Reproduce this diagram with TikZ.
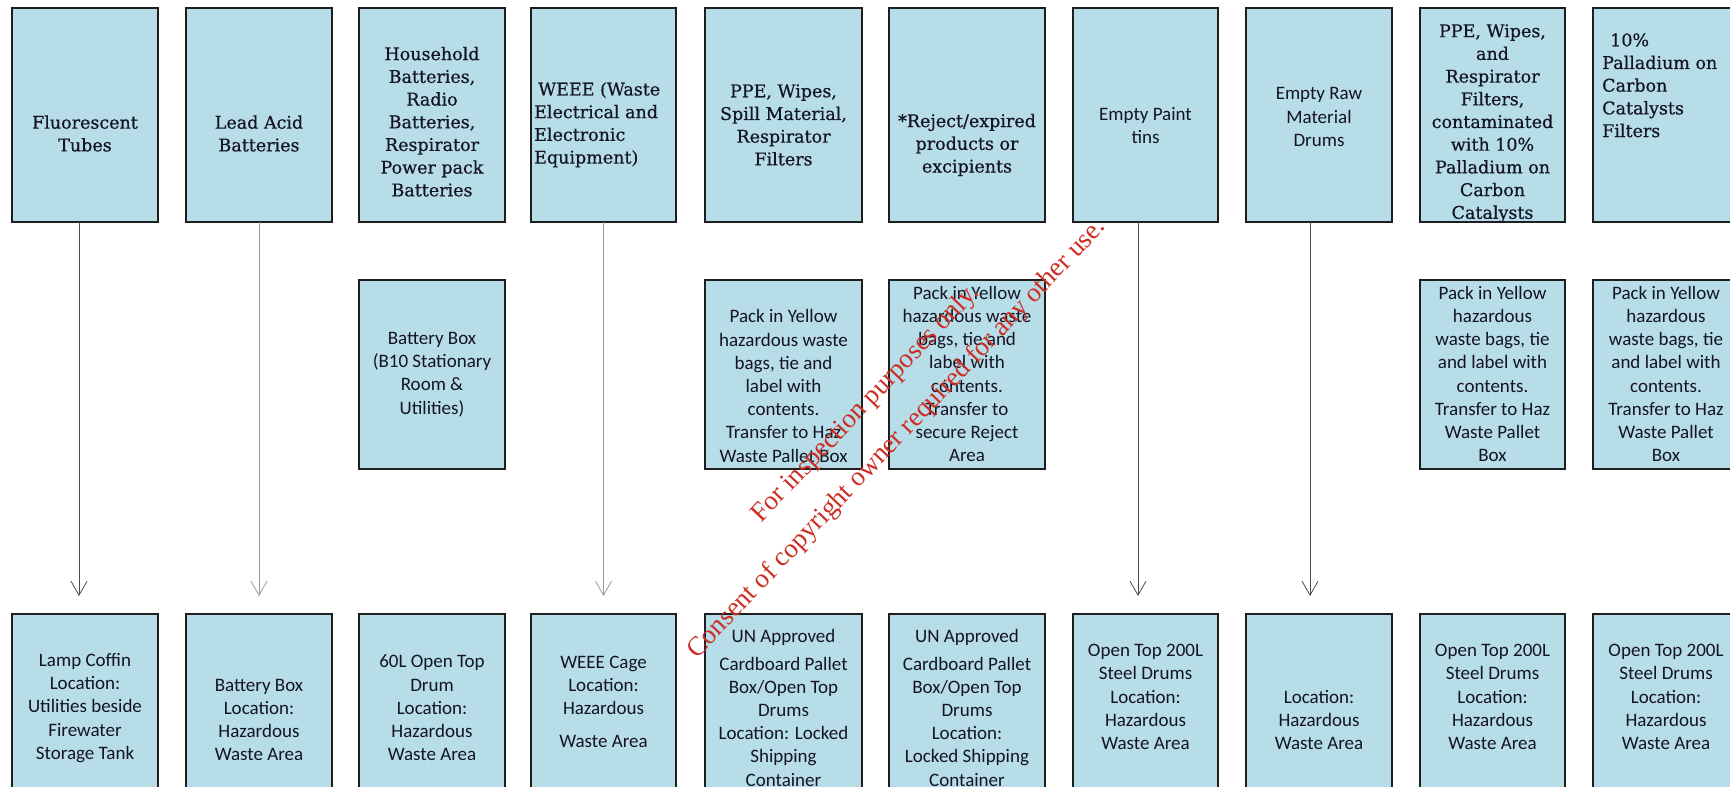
\documentclass[tikz,border=0pt]{standalone}
\usepackage{fontspec}
\setmainfont{Carlito}
\newfontfamily\slabfont[FakeBold=0.5]{DejaVu Serif}
\newfontfamily\wmfont{Liberation Serif}
\usetikzlibrary{arrows.meta}
\definecolor{boxfill}{RGB}{183,221,232}
\definecolor{boxline}{RGB}{30,30,30}
\definecolor{txt}{RGB}{20,20,35}
\definecolor{wmred}{RGB}{205,45,35}
\newcommand\mkbox[5]{\node[boxst, minimum width={(#3)-(#2)}, minimum height={(#5)-(#4)}] (#1) at ({((#2)+(#3))/2},{((#4)+(#5))/2}) {};}
\begin{document}
\begin{tikzpicture}[x=1pt,y=-1pt,
  boxst/.style={draw=boxline, fill=boxfill, line width=1.3pt, inner sep=0pt, outer sep=0pt},
  sanst/.style={font=\fontsize{19}{23.2}\selectfont, text=txt, align=center, inner sep=0pt},
  slabst/.style={font=\slabfont\fontsize{17.5}{22.7}\selectfont, text=txt, align=center, inner sep=0pt},
  wm/.style={font=\wmfont\fontsize{27}{32}\selectfont, text=wmred, inner sep=0pt},
  arr/.style={line width=0.8pt, -{Straight Barb[length=14pt,width=16pt,line width=0.8pt]}, shorten >=18pt},
  darkarr/.style={arr, draw=black!70},
  lightarr/.style={arr, draw=black!40}
]
\useasboundingbox (0,0) rectangle (1730,787);
% top row
\mkbox{t1}{12}{158}{8}{222}
\mkbox{t2}{186}{332}{8}{222}
\mkbox{t3}{359}{505}{8}{222}
\mkbox{t4}{531}{676}{8}{222}
\mkbox{t5}{705}{862}{8}{222}
\mkbox{t6}{889}{1045}{8}{222}
\mkbox{t7}{1073}{1218}{8}{222}
\mkbox{t8}{1246}{1392}{8}{222}
\mkbox{t9}{1420}{1565}{8}{222}
\mkbox{t10}{1593}{1739}{8}{222}
% middle row
\mkbox{m3}{359}{505}{280}{469}
\mkbox{m5}{705}{862}{280}{469}
\mkbox{m6}{889}{1045}{280}{469}
\mkbox{m9}{1420}{1565}{280}{469}
\mkbox{m10}{1593}{1739}{280}{469}
% bottom row
\mkbox{b1}{12}{158}{614}{830}
\mkbox{b2}{186}{332}{614}{830}
\mkbox{b3}{359}{505}{614}{830}
\mkbox{b4}{531}{676}{614}{830}
\mkbox{b5}{705}{862}{614}{830}
\mkbox{b6}{889}{1045}{614}{830}
\mkbox{b7}{1073}{1218}{614}{830}
\mkbox{b8}{1246}{1392}{614}{830}
\mkbox{b9}{1420}{1565}{614}{830}
\mkbox{b10}{1593}{1739}{614}{830}
% top texts
\node[slabst] (tt1) at (85,133.5) {Fluorescent\\Tubes};
\node[slabst] (tt2) at (259,133.5) {Lead Acid\\Batteries};
\node[slabst] (tt3) at (432,121.7) {Household\\Batteries,\\Radio\\Batteries,\\Respirator\\Power pack\\Batteries};
\node[slabst, align=left, anchor=west] (tt4) at (534,124.7) {\hspace*{4pt}WEEE (Waste\\Electrical and\\Electronic\\Equipment)};
\node[slabst] (tt5) at (783.5,125) {PPE, Wipes,\\Spill Material,\\Respirator\\Filters};
\node[slabst] (tt6) at (967,145) {*Reject/expired\\products or\\excipients};
\node[sanst] (tt7) at (1145.5,125.5) {Empty Paint\\tins};
\node[sanst] (tt8) at (1319,117) {Empty Raw\\Material\\Drums};
\node[slabst] (tt9) at (1492.5,123.5) {PPE, Wipes,\\and\\Respirator\\Filters,\\contaminated\\with 10\%\\Palladium on\\Carbon\\Catalysts};
\node[slabst, align=left, anchor=west] (tt10) at (1602,85.3) {\hspace*{8pt}10\%\\Palladium on\\Carbon\\Catalysts\\Filters};
% middle texts
\node[sanst] (mt3) at (432,374.5) {Battery Box\\(B10 Stationary\\Room \&\\Utilities)};
\node[sanst] (mt5) at (783.5,386) {Pack in Yellow\\hazardous waste\\bags, tie and\\label with\\contents.\\Transfer to Haz\\Waste Pallet Box};
\node[sanst] (mt6) at (967,374) {Pack in Yellow\\hazardous waste\\bags, tie and\\label with\\contents.\\Transfer to\\secure Reject\\Area};
\node[sanst] (mt9) at (1492.5,374) {Pack in Yellow\\hazardous\\waste bags, tie\\and label with\\contents.\\Transfer to Haz\\Waste Pallet\\Box};
\node[sanst] (mt10) at (1666,374) {Pack in Yellow\\hazardous\\waste bags, tie\\and label with\\contents.\\Transfer to Haz\\Waste Pallet\\Box};
% bottom texts
\node[sanst] (bt1) at (85,708) {Lamp Coffin\\Location:\\Utilities beside\\Firewater\\Storage Tank};
\node[sanst] (bt2) at (259,720) {Battery Box\\Location:\\Hazardous\\Waste Area};
\node[sanst] (bt3) at (432,708) {60L Open Top\\Drum\\Location:\\Hazardous\\Waste Area};
\node[sanst] (bt4) at (603.5,702) {WEEE Cage\\Location:\\Hazardous\\[10pt]Waste Area};
\node[sanst] (bt5) at (783.5,708) {UN Approved\\[4pt]Cardboard Pallet\\Box/Open Top\\Drums\\Location: Locked\\Shipping\\Container};
\node[sanst] (bt6) at (967,708) {UN Approved\\[4pt]Cardboard Pallet\\Box/Open Top\\Drums\\Location:\\Locked Shipping\\Container};
\node[sanst] (bt7) at (1145.5,697) {Open Top 200L\\Steel Drums\\Location:\\Hazardous\\Waste Area};
\node[sanst] (bt8) at (1319,720) {Location:\\Hazardous\\Waste Area};
\node[sanst] (bt9) at (1492.5,697) {Open Top 200L\\Steel Drums\\Location:\\Hazardous\\Waste Area};
\node[sanst] (bt10) at (1666,697) {Open Top 200L\\Steel Drums\\Location:\\Hazardous\\Waste Area};
% arrows
\draw[darkarr] ([xshift=-6pt]t1.south) -- ([xshift=-6pt]b1.north);
\draw[lightarr] (t2.south) -- (b2.north);
\draw[lightarr] (t4.south) -- (b4.north);
\draw[darkarr] ([xshift=-7.5pt]t7.south) -- ([xshift=-7.5pt]b7.north);
\draw[darkarr] ([xshift=-9pt]t8.south) -- ([xshift=-9pt]b8.north);
% watermark
\node[wm, rotate=46.5] (wm1) at (866,404) {For inspection purposes only.};
\node[wm, rotate=46.5] (wm2) at (897,439) {Consent of copyright owner required for any other use.};
\end{tikzpicture}
\end{document}
